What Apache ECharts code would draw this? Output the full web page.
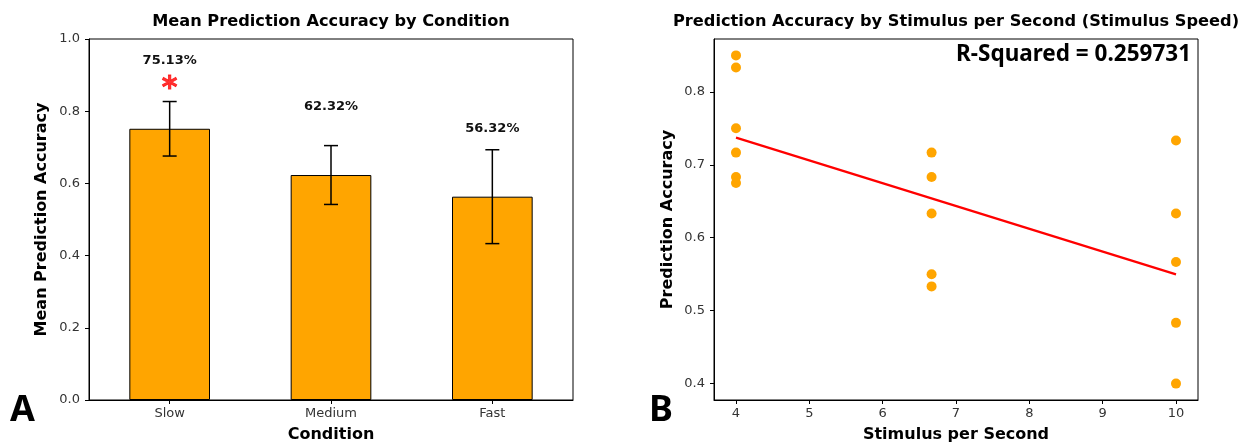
<!DOCTYPE html>
<html>
<head>
<meta charset="utf-8">
<script src="https://cdn.jsdelivr.net/npm/echarts@6/dist/echarts.min.js"></script>
<style>
  html, body { margin: 0; padding: 0; background: #fff; }
  #chart { width: 1242px; height: 444px; }
</style>
</head>
<body>
<div id="chart"></div>
<script>
// Panel A: mean accuracy per condition
const conditions = ['Slow', 'Medium', 'Fast'];
const meanAccuracy = [0.7513, 0.6232, 0.5632];
const accuracyError = [0.0755, 0.0815, 0.130];
const significance = ['*', '', ''];
const barTicks = [0, 0.2, 0.4, 0.6, 0.8, 1.0];

// Panel B: per-participant accuracy against stimulus rate
const stimulusRate = [4, 4, 4, 4, 4, 4,
  6.667, 6.667, 6.667, 6.667, 6.667,
  10, 10, 10, 10, 10];
const predictionAccuracy = [0.85, 0.8333, 0.75, 0.7167, 0.6833, 0.675,
  0.7167, 0.6833, 0.6333, 0.55, 0.5333,
  0.7333, 0.6333, 0.5667, 0.4833, 0.40];
const rSquared = '0.259731';
const rateTicks = [4, 5, 6, 7, 8, 9, 10];
const accuracyTicks = [0.4, 0.5, 0.6, 0.7, 0.8];

const ORANGE = '#FFA500';
const TICK_FONT = { color: '#333', fontSize: 13, fontFamily: 'DejaVu Sans' };
const NAME_FONT = { color: '#000', fontSize: 16, fontWeight: 'bold', fontFamily: 'DejaVu Sans' };

// least-squares fit for the trend line
function fitLine(xs, ys) {
  const n = xs.length;
  const mx = xs.reduce((a, b) => a + b, 0) / n;
  const my = ys.reduce((a, b) => a + b, 0) / n;
  let sxy = 0, sxx = 0;
  for (let i = 0; i < n; i++) {
    sxy += (xs[i] - mx) * (ys[i] - my);
    sxx += (xs[i] - mx) * (xs[i] - mx);
  }
  const slope = sxy / sxx;
  return x => my + slope * (x - mx);
}
const trend = fitLine(stimulusRate, predictionAccuracy);
const xLo = Math.min(...stimulusRate), xHi = Math.max(...stimulusRate);
const yLo = Math.min(...predictionAccuracy), yHi = Math.max(...predictionAccuracy);
// 5% padding around the data range
const xPad = (xHi - xLo) * 0.05, yPad = (yHi - yLo) * 0.05;

const scatterData = stimulusRate.map((x, i) => [x, predictionAccuracy[i]]);
const trendData = [[xLo, trend(xLo)], [xHi, trend(xHi)]];
const errorData = meanAccuracy.map((m, i) => [i, m - accuracyError[i], m + accuracyError[i]]);

function axisBase(gridIndex) {
  return {
    gridIndex,
    axisLine: { show: true, lineStyle: { color: '#000', width: 1 } },
    axisTick: { show: true, length: 4, lineStyle: { color: '#000', width: 1 } },
    splitLine: { show: false },
    nameLocation: 'middle',
    nameTextStyle: NAME_FONT
  };
}

const chart = echarts.init(document.getElementById('chart'), null, { renderer: 'canvas' });

chart.setOption({
  animation: false,
  backgroundColor: '#fff',
  grid: [
    { left: 89, top: 39, width: 484, height: 361, show: true, borderColor: '#000', borderWidth: 1,
      containLabel: false, outerBoundsMode: 'none' },
    { left: 714, top: 39, width: 484, height: 361, show: true, borderColor: '#000', borderWidth: 1,
      containLabel: false, outerBoundsMode: 'none' }
  ],
  xAxis: [
    Object.assign(axisBase(0), {
      type: 'category',
      data: conditions,
      boundaryGap: true,
      axisTick: { show: true, alignWithLabel: true, length: 4, lineStyle: { color: '#000' } },
      axisLabel: Object.assign({ margin: 7 }, TICK_FONT),
      name: 'Condition',
      nameGap: 27
    }),
    Object.assign(axisBase(1), {
      type: 'value',
      min: xLo - xPad,
      max: xHi + xPad,
      axisTick: { show: true, length: 4, lineStyle: { color: '#000' }, customValues: rateTicks },
      axisLabel: Object.assign({ margin: 7, customValues: rateTicks, formatter: v => String(v) }, TICK_FONT),
      name: 'Stimulus per Second',
      nameGap: 27
    })
  ],
  yAxis: [
    Object.assign(axisBase(0), {
      type: 'value',
      min: barTicks[0],
      max: barTicks[barTicks.length - 1],
      interval: 0.2,
      axisLabel: Object.assign({ margin: 9, formatter: v => v.toFixed(1) }, TICK_FONT),
      name: 'Mean Prediction Accuracy',
      nameGap: 39
    }),
    Object.assign(axisBase(1), {
      type: 'value',
      min: yLo - yPad,
      max: yHi + yPad,
      axisTick: { show: true, length: 4, lineStyle: { color: '#000' }, customValues: accuracyTicks },
      axisLabel: Object.assign({ margin: 9, customValues: accuracyTicks, formatter: v => v.toFixed(1) }, TICK_FONT),
      name: 'Prediction Accuracy',
      nameGap: 38
    })
  ],
  series: [
    {
      type: 'bar',
      xAxisIndex: 0, yAxisIndex: 0,
      data: meanAccuracy,
      barWidth: '50%',
      itemStyle: { color: ORANGE, borderColor: '#000', borderWidth: 1 },
      label: {
        show: true,
        position: 'top',
        distance: 62,
        formatter: p => (p.value * 100).toFixed(2) + '%',
        color: '#111', fontSize: 13, fontWeight: 'bold', fontFamily: 'DejaVu Sans'
      },
      z: 2
    },
    {
      type: 'custom',
      xAxisIndex: 0, yAxisIndex: 0,
      data: errorData,
      z: 5,
      renderItem: (params, api) => {
        const x = api.value(0);
        const lo = api.coord([x, api.value(1)]);
        const hi = api.coord([x, api.value(2)]);
        const cap = 7;
        const style = { stroke: '#000', lineWidth: 1.5 };
        return {
          type: 'group',
          children: [
            { type: 'line', shape: { x1: hi[0], y1: hi[1], x2: lo[0], y2: lo[1] }, style },
            { type: 'line', shape: { x1: hi[0] - cap, y1: hi[1], x2: hi[0] + cap, y2: hi[1] }, style },
            { type: 'line', shape: { x1: lo[0] - cap, y1: lo[1], x2: lo[0] + cap, y2: lo[1] }, style }
          ]
        };
      }
    },
    {
      // significance marker above the bar
      type: 'scatter',
      xAxisIndex: 0, yAxisIndex: 0,
      data: meanAccuracy.map((m, i) => [i, m]),
      symbolSize: 0,
      label: {
        show: true,
        position: 'inside',
        offset: [0, -40],
        formatter: p => significance[p.dataIndex],
        color: '#ff0000', fontSize: 30, fontWeight: 'bold', fontFamily: 'DejaVu Sans',
        textBorderColor: '#ff0000', textBorderWidth: 0.8
      },
      z: 6
    },
    {
      type: 'scatter',
      xAxisIndex: 1, yAxisIndex: 1,
      data: scatterData,
      symbolSize: 10,
      itemStyle: { color: ORANGE, opacity: 1 },
      z: 3
    },
    {
      type: 'line',
      xAxisIndex: 1, yAxisIndex: 1,
      data: trendData,
      symbol: 'none',
      lineStyle: { color: '#ff0000', width: 2.2 },
      z: 4
    }
  ],
  graphic: [
    {
      type: 'text', x: 331, y: 22, z: 10,
      style: { text: 'Mean Prediction Accuracy by Condition', textAlign: 'center', textVerticalAlign: 'middle',
        font: 'bold 16.2px "DejaVu Sans"', fill: '#000' }
    },
    {
      type: 'text', x: 956, y: 22, z: 10,
      style: { text: 'Prediction Accuracy by Stimulus per Second (Stimulus Speed)', textAlign: 'center', textVerticalAlign: 'middle',
        font: 'bold 16.2px "DejaVu Sans"', fill: '#000' }
    },
    {
      type: 'text', x: 1191, y: 55, z: 10,
      style: { text: 'R-Squared = ' + rSquared, textAlign: 'right', textVerticalAlign: 'middle',
        font: 'bold 22.5px "Noto Sans"', fill: '#000' }
    },
    {
      type: 'text', x: 10, y: 411, z: 10,
      style: { text: 'A', textAlign: 'left', textVerticalAlign: 'middle',
        font: 'bold 36px "Noto Sans"', fill: '#000' }
    },
    {
      type: 'text', x: 649, y: 411, z: 10,
      style: { text: 'B', textAlign: 'left', textVerticalAlign: 'middle',
        font: 'bold 36px "Noto Sans"', fill: '#000' }
    }
  ]
});
</script>
</body>
</html>
